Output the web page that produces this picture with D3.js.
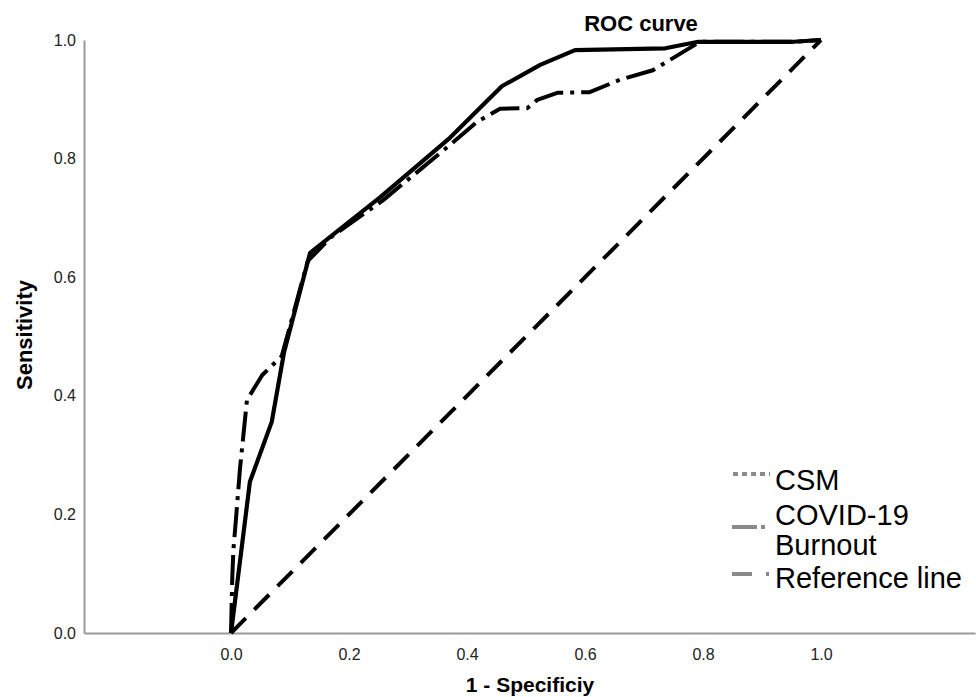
<!DOCTYPE html>
<html><head><meta charset="utf-8">
<script src="https://cdn.jsdelivr.net/npm/d3@7/dist/d3.min.js"></script>
<style>body{margin:0;background:#fff}svg{display:block}text{font-family:"Liberation Sans",Arial,sans-serif}</style>
</head><body>
<svg id="c" width="976" height="697"></svg>
<script>
// Data
const csmFpr = [0, 0.032, 0.069, 0.090, 0.134, 0.253, 0.371, 0.459, 0.524, 0.583, 0.736, 0.792, 0.953, 1];
const csmTpr = [0, 0.255, 0.356, 0.474, 0.641, 0.735, 0.835, 0.922, 0.958, 0.983, 0.986, 0.997, 0.997, 1];
const burnFpr = [0, 0.002, 0.004, 0.009, 0.015, 0.027, 0.053, 0.086, 0.130, 0.170, 0.258, 0.371, 0.417, 0.456, 0.502, 0.519, 0.553, 0.608, 0.659, 0.715, 0.795, 0.953, 1];
const burnTpr = [0, 0.090, 0.140, 0.200, 0.275, 0.393, 0.435, 0.467, 0.627, 0.668, 0.730, 0.823, 0.862, 0.884, 0.885, 0.899, 0.911, 0.912, 0.933, 0.949, 0.997, 0.997, 1];
const refFpr = [0, 1];
const refTpr = [0, 1];
const tickVals = [0, 0.2, 0.4, 0.6, 0.8, 1.0];
const legendLabels = [["CSM"], ["COVID-19", "Burnout"], ["Reference line"]];

const svg = d3.select("#c");
const x = d3.scaleLinear().domain([-0.2492, 1.261]).range([84, 975]);
const y = d3.scaleLinear().domain([0, 1]).range([633, 40]);

// axes
const xAxis = svg.append("g").attr("transform", "translate(0,633)")
  .call(d3.axisBottom(x).tickValues(tickVals).tickFormat(d3.format(".1f")).tickSize(0).tickPadding(16));
const yAxis = svg.append("g").attr("transform", "translate(84,0)")
  .call(d3.axisLeft(y).tickValues(tickVals).tickFormat(d3.format(".1f")).tickSize(0).tickPadding(8));
[xAxis, yAxis].forEach(g => {
  g.select(".domain").attr("stroke", "#9a9a9a").attr("stroke-width", 2);
  g.selectAll("text").attr("font-size", 16).attr("fill", "#222")
    .attr("font-family", "'Liberation Sans', Arial, sans-serif");
});
yAxis.selectAll("text").attr("dy", "0.32em");

const line = d3.line().x(d => x(d[0])).y(d => y(d[1]));
const zip = (a, b) => a.map((v, i) => [v, b[i]]);

svg.append("path").datum(zip(refFpr, refTpr)).attr("d", line)
  .attr("fill", "none").attr("stroke", "#000").attr("stroke-width", 4)
  .attr("stroke-dasharray", "21,12");
svg.append("path").datum(zip(burnFpr, burnTpr)).attr("d", line)
  .attr("fill", "none").attr("stroke", "#000").attr("stroke-width", 4)
  .attr("stroke-dasharray", "30,7,4,7").attr("stroke-linejoin", "round");
svg.append("path").datum(zip(csmFpr, csmTpr)).attr("d", line)
  .attr("fill", "none").attr("stroke", "#000").attr("stroke-width", 4.2)
  .attr("stroke-linejoin", "round");

// title and axis labels
svg.append("text").attr("x", 641).attr("y", 31).attr("text-anchor", "middle")
  .attr("font-size", 22).attr("font-weight", "bold").text("ROC curve");
svg.append("text").attr("x", 530).attr("y", 692).attr("text-anchor", "middle")
  .attr("font-size", 21).attr("font-weight", "bold").text("1 - Specificiy");
svg.append("text").attr("transform", "translate(32,335) rotate(-90)").attr("text-anchor", "middle")
  .attr("font-size", 22).attr("font-weight", "bold").text("Sensitivity");

// legend
const lg = svg.append("g");
const gray = "#8a8a8a";
lg.append("line").attr("x1", 733).attr("x2", 770).attr("y1", 474).attr("y2", 474)
  .attr("stroke", gray).attr("stroke-width", 4).attr("stroke-dasharray", "5,4");
lg.append("line").attr("x1", 732).attr("x2", 766).attr("y1", 527).attr("y2", 527)
  .attr("stroke", gray).attr("stroke-width", 4).attr("stroke-dasharray", "25,4,4,40");
lg.append("line").attr("x1", 732).attr("x2", 770).attr("y1", 574).attr("y2", 574)
  .attr("stroke", gray).attr("stroke-width", 4).attr("stroke-dasharray", "20,14,3,40");
const baselines = [[490], [525, 555], [588]];
legendLabels.forEach((lines, i) => {
  lines.forEach((t, j) => {
    lg.append("text").attr("x", 775).attr("y", baselines[i][j])
      .attr("font-size", 29).attr("fill", "#000").text(t);
  });
});
</script>
</body></html>
